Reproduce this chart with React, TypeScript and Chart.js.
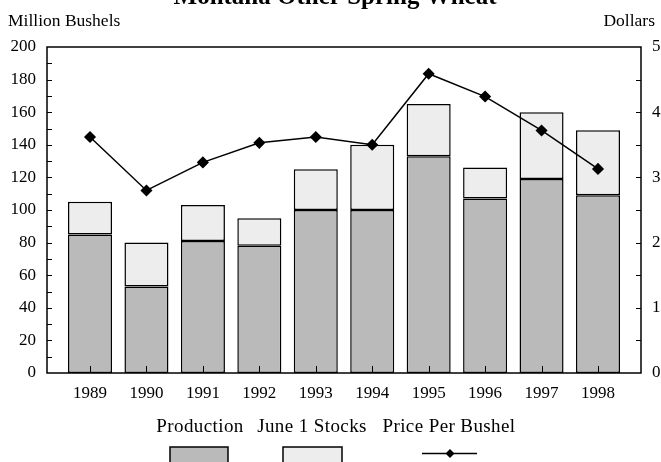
import React, { useEffect, useRef } from 'react';
import { Chart, registerables } from 'chart.js';

Chart.register(...registerables);

const years = ['1989', '1990', '1991', '1992', '1993', '1994', '1995', '1996', '1997', '1998'];
const production = [85, 53, 81, 78, 100, 100, 133, 107, 119, 109];
const juneStocks = [20, 27, 22, 17, 25, 40, 32, 19, 41, 40];
const pricePerBushel = [3.62, 2.8, 3.23, 3.53, 3.62, 3.5, 4.59, 4.24, 3.72, 3.13];
const leftMinorTicks = [10, 20, 30, 40, 50, 60, 70, 80, 90, 100, 110, 120, 130, 140, 150, 160, 170, 180, 190];
const rightMinorTicks = [0.5, 1, 1.5, 2, 2.5, 3, 3.5, 4, 4.5];

const FONT = "'Liberation Serif', 'Times New Roman', serif";
const PROD_FILL = '#bababa';
const STOCK_FILL = '#ededed';

const decorPlugin = {
  id: 'decor',
  afterDraw(chart: any) {
    const { ctx, chartArea } = chart;
    const { left, right, top, bottom } = chartArea;
    const x = chart.scales.x;
    const y = chart.scales.y;
    const y1 = chart.scales.y1;
    ctx.save();
    ctx.strokeStyle = '#000';
    ctx.fillStyle = '#000';
    // frame
    ctx.lineWidth = 1.5;
    ctx.strokeRect(left, top, right - left, bottom - top);
    // ticks
    ctx.lineWidth = 1;
    ctx.beginPath();
    leftMinorTicks.forEach((v) => {
      const py = Math.round(y.getPixelForValue(v)) + 0.5;
      ctx.moveTo(left, py);
      ctx.lineTo(left + 5, py);
    });
    rightMinorTicks.forEach((v) => {
      const py = Math.round(y1.getPixelForValue(v)) + 0.5;
      ctx.moveTo(right, py);
      ctx.lineTo(right - 5, py);
    });
    years.forEach((_, i) => {
      const px = Math.round(x.getPixelForValue(i)) + 0.5;
      ctx.moveTo(px, bottom);
      ctx.lineTo(px, bottom - 7);
    });
    ctx.stroke();

    // title (cut off at top)
    ctx.textAlign = 'center';
    ctx.textBaseline = 'alphabetic';
    ctx.font = `bold 25px ${FONT}`;
    ctx.fillText('Montana Other Spring Wheat', 335, 4);

    // axis titles
    ctx.font = `17.5px ${FONT}`;
    ctx.textBaseline = 'middle';
    ctx.textAlign = 'left';
    ctx.fillText('Million Bushels', 8, 21);
    ctx.textAlign = 'right';
    ctx.fillText('Dollars', 655, 21);

    // legend
    ctx.textAlign = 'center';
    ctx.font = `19px ${FONT}`;
    try { (ctx as any).letterSpacing = '0.4px'; } catch (e) { /* ignore */ }
    ctx.fillText('Production', 200, 427);
    ctx.fillText('June 1 Stocks', 312, 427);
    ctx.fillText('Price Per Bushel', 449, 427);
    try { (ctx as any).letterSpacing = '0px'; } catch (e) { /* ignore */ }

    ctx.lineWidth = 1.5;
    ctx.fillStyle = PROD_FILL;
    ctx.fillRect(170, 447, 58, 20);
    ctx.strokeRect(170, 447, 58, 20);
    ctx.fillStyle = STOCK_FILL;
    ctx.fillRect(283, 447, 59, 20);
    ctx.strokeRect(283, 447, 59, 20);

    ctx.beginPath();
    ctx.moveTo(422, 453.5);
    ctx.lineTo(477, 453.5);
    ctx.stroke();
    ctx.fillStyle = '#000';
    ctx.beginPath();
    ctx.moveTo(450, 449);
    ctx.lineTo(454.5, 453.5);
    ctx.lineTo(450, 458);
    ctx.lineTo(445.5, 453.5);
    ctx.closePath();
    ctx.fill();
    ctx.restore();
  },
};

export default function App() {
  const canvasRef = useRef<HTMLCanvasElement | null>(null);

  useEffect(() => {
    document.body.style.margin = '0';
    const canvas = canvasRef.current;
    if (!canvas) return;
    const tickFont = { family: FONT, size: 17 };
    const idx = years.map((_, i) => i);
    const chart = new Chart(canvas, {
      type: 'bar',
      data: {
        datasets: [
          {
            type: 'line',
            label: 'Price Per Bushel',
            data: idx.map((i) => ({ x: i, y: pricePerBushel[i] })),
            yAxisID: 'y1',
            borderColor: '#000',
            backgroundColor: '#000',
            borderWidth: 1.5,
            pointStyle: 'rectRot',
            pointRadius: 5,
            pointBackgroundColor: '#000',
            pointBorderColor: '#000',
            tension: 0,
            order: 0,
          } as any,
          {
            type: 'bar',
            label: 'Production',
            data: idx.map((i) => ({ x: i, y: production[i] })),
            yAxisID: 'y',
            stack: 's',
            backgroundColor: PROD_FILL,
            borderColor: '#000',
            borderWidth: 1.5,
            borderSkipped: false,
            barPercentage: 0.78,
            categoryPercentage: 1,
            order: 1,
          },
          {
            type: 'bar',
            label: 'June 1 Stocks',
            data: idx.map((i) => ({ x: i, y: juneStocks[i] })),
            yAxisID: 'y',
            stack: 's',
            backgroundColor: STOCK_FILL,
            borderColor: '#000',
            borderWidth: 1.5,
            borderSkipped: false,
            barPercentage: 0.78,
            categoryPercentage: 1,
            order: 1,
          },
        ],
      },
      options: {
        animation: false,
        responsive: false,
        maintainAspectRatio: false,
        layout: { padding: { top: 47, bottom: 49, left: 0, right: 0 } },
        plugins: {
          legend: { display: false },
          tooltip: { enabled: false },
          title: { display: false },
        },
        scales: {
          x: {
            type: 'linear',
            stacked: true,
            min: -0.762,
            max: 9.762,
            offset: false,
            grid: { display: false, drawTicks: false },
            border: { display: false },
            afterBuildTicks: (s: any) => {
              s.ticks = idx.map((i) => ({ value: i }));
            },
            ticks: {
              font: tickFont,
              color: '#000',
              padding: 10,
              maxRotation: 0,
              autoSkip: false,
              callback: (v: any) => years[Math.round(Number(v))] ?? '',
            },
            afterFit: (s: any) => { s.height = 40; },
          },
          y: {
            stacked: true,
            position: 'left',
            min: 0,
            max: 200,
            grid: { display: false, drawTicks: false },
            border: { display: false },
            ticks: { stepSize: 20, font: tickFont, color: '#000', padding: 11 },
            afterFit: (s: any) => { s.width = 47; },
          },
          y1: {
            position: 'right',
            min: 0,
            max: 5,
            grid: { display: false, drawTicks: false },
            border: { display: false },
            ticks: { stepSize: 1, font: tickFont, color: '#000', padding: 11 },
            afterFit: (s: any) => { s.width = 20; },
          },
        },
      } as any,
      plugins: [decorPlugin],
    });
    return () => chart.destroy();
  }, []);

  return (
    <div style={{ position: 'absolute', left: 0, top: 0, width: 661, height: 462, background: '#fff' }}>
      <canvas ref={canvasRef} width={661} height={462} style={{ width: 661, height: 462, display: 'block' }} />
    </div>
  );
}
